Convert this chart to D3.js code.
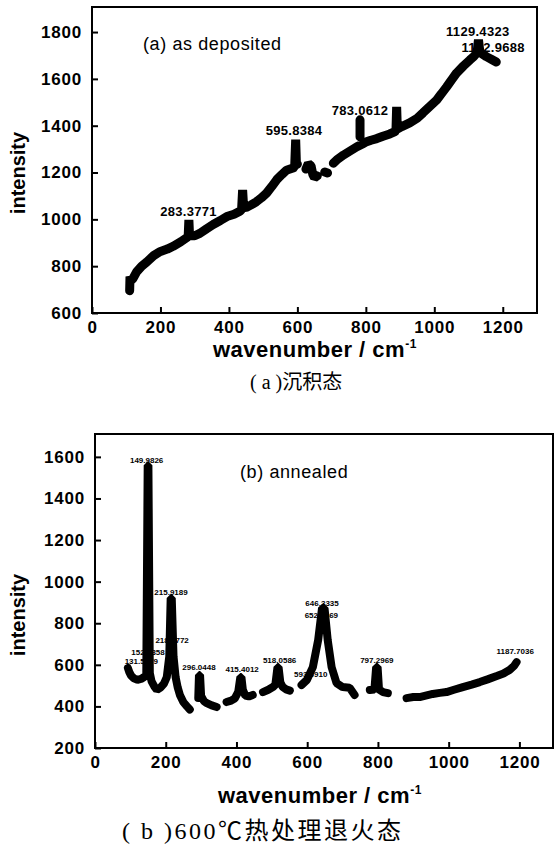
<!DOCTYPE html>
<html>
<head>
<meta charset="utf-8">
<script src="https://cdn.jsdelivr.net/npm/d3@7"></script>
<style>
    body { margin: 0; background: #fff; }
    svg { display: block; }
    .tick text { font-family: "Liberation Sans", Arial, sans-serif; font-weight: bold; font-size: 17px; letter-spacing: 0.8px; fill: #000; }
    .tick line { stroke: #000; stroke-width: 2; }
    .lbl { font-family: "Liberation Sans", Arial, sans-serif; font-weight: bold; fill: #000; }
</style>
</head>
<body>
<svg id="chart" width="555" height="845"></svg>
<script>
// (a) as deposited -- null = break in the scan
const wnA = [110, 111, 115, 120, 130, 145, 160, 180, 198, 220, 237, 260, 277, 281, 283, 285, 300, 315, 335, 354,
    375, 394, 415, 432, 437, 440, 443, 450, 465, 480, 495, 510, 525, 540, 555, 568, 585, 592, 595, 597, 600, null,
    625, 632, 640, 645, 650, 658, null, 680, 688, null,
    705, 715, 735, 755, 774, 790, 800, 815, 832, 850, 870, 885, 888, 890, 892, 905, 928, 950, 967, 985, 1007, 1020,
    1036, 1050, 1065, 1085, 1104, 1115, 1125, 1129, 1133, 1140, 1152, 1165, 1181, null, 783, 783];
const intA = [695, 755, 740, 748, 775, 800, 818, 845, 862, 873, 885, 905, 922, 928, 998, 930, 930, 940, 960, 978,
    995, 1012, 1022, 1035, 1042, 1125, 1052, 1050, 1062, 1075, 1092, 1112, 1140, 1170, 1192, 1210, 1218, 1222, 1340, 1242, 1236, null,
    1215, 1238, 1228, 1192, 1178, 1186, null, 1202, 1198, null,
    1240, 1254, 1275, 1293, 1310, 1322, 1330, 1338, 1345, 1355, 1365, 1375, 1378, 1480, 1386, 1396, 1412, 1432, 1455, 1480, 1510, 1535,
    1566, 1595, 1625, 1655, 1681, 1695, 1712, 1767, 1716, 1706, 1695, 1685, 1672, null, 1352, 1425];
const peakTextA = ['283.3771', '595.8384', '783.0612', '1129.4323', '1172.9688'];
const peakWnA = [282, 590, 783, 1127, 1172];
const peakIntA = [1015, 1360, 1445, 1783, 1715];

// (b) annealed
const wnB = [93, 97, 102, 110, 120, 130, 138, 145, 149, 151, 155, 160, 168, 175, 185, 195, 203, 210, 214, 217, 222, 228,
    234, 240, 250, 260, 268, null,
    292, 294, 297, 300, 308, 316, 330, 344, null,
    372, 385, 395, 405, 411, 414, 418, 425, 435, 446, null,
    475, 490, 503, 510, 516, 519, 524, 531, 540, 551, null,
    584, 599, 616, 631, 642, 649, 658, 669, 683, 700, 720, 734, null,
    777, 790, 795, 799, 803, 814, 828, null,
    881, 900, 918, 935, 955, 975, 994, 1015, 1040, 1065, 1088, 1110, 1136, 1155, 1172, 1185, 1192];
const intB = [585, 565, 548, 535, 528, 532, 540, 548, 1560, 1560, 560, 520, 495, 479, 490, 510, 541, 640, 921, 921, 640, 540,
    490, 455, 420, 400, 385, null,
    440, 551, 551, 450, 425, 416, 405, 397, null,
    421, 428, 438, 470, 541, 541, 480, 452, 448, 455, null,
    469, 480, 493, 505, 589, 589, 515, 493, 482, 476, null,
    503, 527, 589, 719, 873, 873, 719, 589, 512, 493, 490, 455, null,
    479, 481, 589, 589, 482, 469, 464, null,
    440, 445, 445, 452, 460, 465, 469, 480, 493, 505, 517, 530, 546, 558, 575, 595, 613];
const peakTextB = ['149.9826', '215.9189', '218.8772', '152.6358', '131.5279', '296.0448', '415.4012', '518.0586',
    '593.3910', '646.3335', '652.4469', '797.2969', '1187.7036'];
const peakWnB = [146, 215, 218, 150, 131, 294, 416, 522, 610, 642, 640, 797, 1188];
const peakIntB = [1570, 936, 705, 647, 602, 575, 565, 609, 541, 883, 825, 609, 652];

const xTicks = [0, 200, 400, 600, 800, 1000, 1200];
const yTicksA = [600, 800, 1000, 1200, 1400, 1600, 1800];
const yTicksB = [200, 400, 600, 800, 1000, 1200, 1400, 1600];

const svg = d3.select('#chart');
const plain = d3.format('d');

function drawPanel(p) {
    const x = d3.scaleLinear().domain(p.xDomain).range([p.left, p.right]);
    const y = d3.scaleLinear().domain(p.yDomain).range([p.bottom, p.top]);
    const g = svg.append('g');

    // axes, ticks pointing inward
    g.append('g')
        .attr('transform', 'translate(0,' + p.bottom + ')')
        .call(d3.axisBottom(x).tickValues(xTicks).tickFormat(plain).tickSize(-6).tickPadding(8))
        .call(a => a.select('.domain').remove());
    g.append('g')
        .attr('transform', 'translate(' + p.left + ',0)')
        .call(d3.axisLeft(y).tickValues(p.yTicks).tickFormat(plain).tickSize(-6).tickPadding(10))
        .call(a => a.select('.domain').remove());

    g.append('rect')
        .attr('x', p.left).attr('y', p.top)
        .attr('width', p.right - p.left).attr('height', p.bottom - p.top)
        .attr('fill', 'none').attr('stroke', '#000').attr('stroke-width', 2);

    // peak labels (drawn under the scan, like the original)
    g.selectAll('.peak')
        .data(p.peakText)
        .enter().append('text')
        .attr('class', 'lbl')
        .attr('x', (d, i) => x(p.peakWn[i]))
        .attr('y', (d, i) => y(p.peakInt[i]))
        .attr('text-anchor', 'middle')
        .attr('font-size', p.peakSize)
        .style('letter-spacing', p.peakSpacing)
        .text(d => d);

    const pts = p.wn.map((w, i) => [w, p.int[i]]);
    const line = d3.line()
        .defined(d => d[0] != null && d[1] != null)
        .x(d => x(d[0]))
        .y(d => y(d[1]));
    g.append('path')
        .attr('d', line(pts))
        .attr('fill', 'none')
        .attr('stroke', '#000')
        .attr('stroke-width', p.lineWidth)
        .attr('stroke-linecap', 'round')
        .attr('stroke-linejoin', 'miter')
        .attr('stroke-miterlimit', 1);

    // title inside the frame
    g.append('text')
        .attr('x', p.titleX).attr('y', p.titleY)
        .attr('font-family', '"Liberation Sans", Arial, sans-serif')
        .attr('font-size', 18)
        .style('letter-spacing', '0.6px')
        .text(p.title);

    // axis titles
    g.append('text')
        .attr('class', 'lbl')
        .attr('transform', 'translate(25,' + p.yLabelY + ') rotate(-90)')
        .attr('text-anchor', 'middle')
        .attr('font-size', 20)
        .text('intensity');

    const xl = g.append('text')
        .attr('class', 'lbl')
        .attr('x', p.xLabelX).attr('y', p.xLabelY)
        .attr('font-size', 22)
        .style('letter-spacing', '0.5px');
    xl.append('tspan').text('wavenumber / cm');
    xl.append('tspan').attr('font-size', 12).attr('dy', -9).text('-1');

    // caption
    const cap = svg.append('text')
        .attr('x', p.capX).attr('y', p.capY)
        .attr('font-size', p.capSize)
        .style('letter-spacing', p.capSpacing);
    cap.append('tspan').attr('font-family', '"Liberation Serif", serif').text(p.capLatin);
    cap.append('tspan').attr('font-family', '"Noto Sans CJK SC", sans-serif').text(p.capCjk);
}

drawPanel({
    left: 92, right: 537, top: 7, bottom: 313,
    xDomain: [0, 1300], yDomain: [600, 1907], yTicks: yTicksA,
    wn: wnA, int: intA, lineWidth: 9,
    peakText: peakTextA, peakWn: peakWnA, peakInt: peakIntA, peakSize: 13, peakSpacing: '0.3px',
    title: '(a) as deposited', titleX: 143, titleY: 50,
    yLabelY: 173, xLabelX: 213, xLabelY: 357,
    capX: 250, capY: 389, capSize: 20, capSpacing: '0px', capLatin: '( a )', capCjk: '沉积态'
});

drawPanel({
    left: 95, right: 553, top: 434, bottom: 748,
    xDomain: [0, 1295], yDomain: [200, 1710], yTicks: yTicksB,
    wn: wnB, int: intB, lineWidth: 8,
    peakText: peakTextB, peakWn: peakWnB, peakInt: peakIntB, peakSize: 8, peakSpacing: '0px',
    title: '(b) annealed', titleX: 240, titleY: 478,
    yLabelY: 615, xLabelX: 218, xLabelY: 803,
    capX: 122, capY: 839, capSize: 24, capSpacing: '2.5px', capLatin: '( b )600', capCjk: '℃热处理退火态'
});
</script>
</body>
</html>
